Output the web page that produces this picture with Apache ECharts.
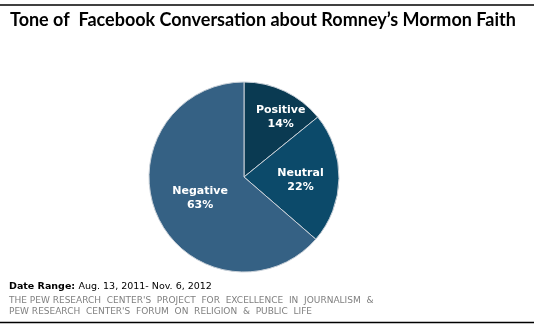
<!DOCTYPE html>
<html>
<head>
<meta charset="utf-8">
<script src="https://cdn.jsdelivr.net/npm/echarts@6/dist/echarts.min.js"></script>
<style>
html,body{margin:0;padding:0;background:#fff;}
#c{width:534px;height:330px;}
</style>
</head>
<body>
<div id="c"></div>
<script>
var categories = ['Positive', 'Neutral', 'Negative'];
var values = [14, 22, 63];
var colors = ['#0a3a52', '#0c4a6a', '#356184'];
var labelShift = [[15, -14], [6, 2], [2, 0]];

var chart = echarts.init(document.getElementById('c'), null, {renderer: 'canvas'});
var data = categories.map(function (n, i) {
  return {name: n, value: values[i], itemStyle: {color: colors[i]}};
});
chart.setOption({
  animation: false,
  backgroundColor: '#ffffff',
  graphic: [
    {type: 'line', shape: {x1: 0, y1: 5, x2: 534, y2: 5}, style: {stroke: '#000', lineWidth: 1.5}},
    {type: 'text', left: 10, top: 11, style: {text: 'Tone of  Facebook Conversation about Romney\u2019s Mormon Faith', font: 'bold 18px Lato', fill: '#000'}},
    {type: 'text', left: 9, top: 281, style: {
      text: '{b|Date Range:} {n|Aug. 13, 2011- Nov. 6, 2012}',
      rich: {b: {font: 'bold 9.5px "DejaVu Sans"', fill: '#000'}, n: {font: '9.5px "DejaVu Sans"', fill: '#000'}}
    }},
    {type: 'text', left: 9, top: 295, style: {
      text: "THE PEW RESEARCH  CENTER'S  PROJECT  FOR  EXCELLENCE  IN  JOURNALISM  &\nPEW RESEARCH  CENTER'S  FORUM  ON  RELIGION  &  PUBLIC  LIFE",
      font: '9px "DejaVu Sans"', fill: '#808080', lineHeight: 11
    }},
    {type: 'line', shape: {x1: 0, y1: 322.5, x2: 534, y2: 322.5}, style: {stroke: '#000', lineWidth: 1.5}}
  ],
  series: [{
    type: 'pie',
    center: [244, 177],
    radius: 95,
    startAngle: 90,
    clockwise: true,
    data: data,
    itemStyle: {borderColor: '#c8d0d8', borderWidth: 1},
    label: {
      position: 'inside',
      formatter: '{b}\n{c}%',
      color: '#fff',
      fontFamily: 'DejaVu Sans',
      fontWeight: 'bold',
      fontSize: 11,
      lineHeight: 14,
      align: 'center'
    },
    labelLayout: function (p) {
      return {dx: labelShift[p.dataIndex][0], dy: labelShift[p.dataIndex][1]};
    },
    emphasis: {disabled: true}
  }]
});
</script>
</body>
</html>
